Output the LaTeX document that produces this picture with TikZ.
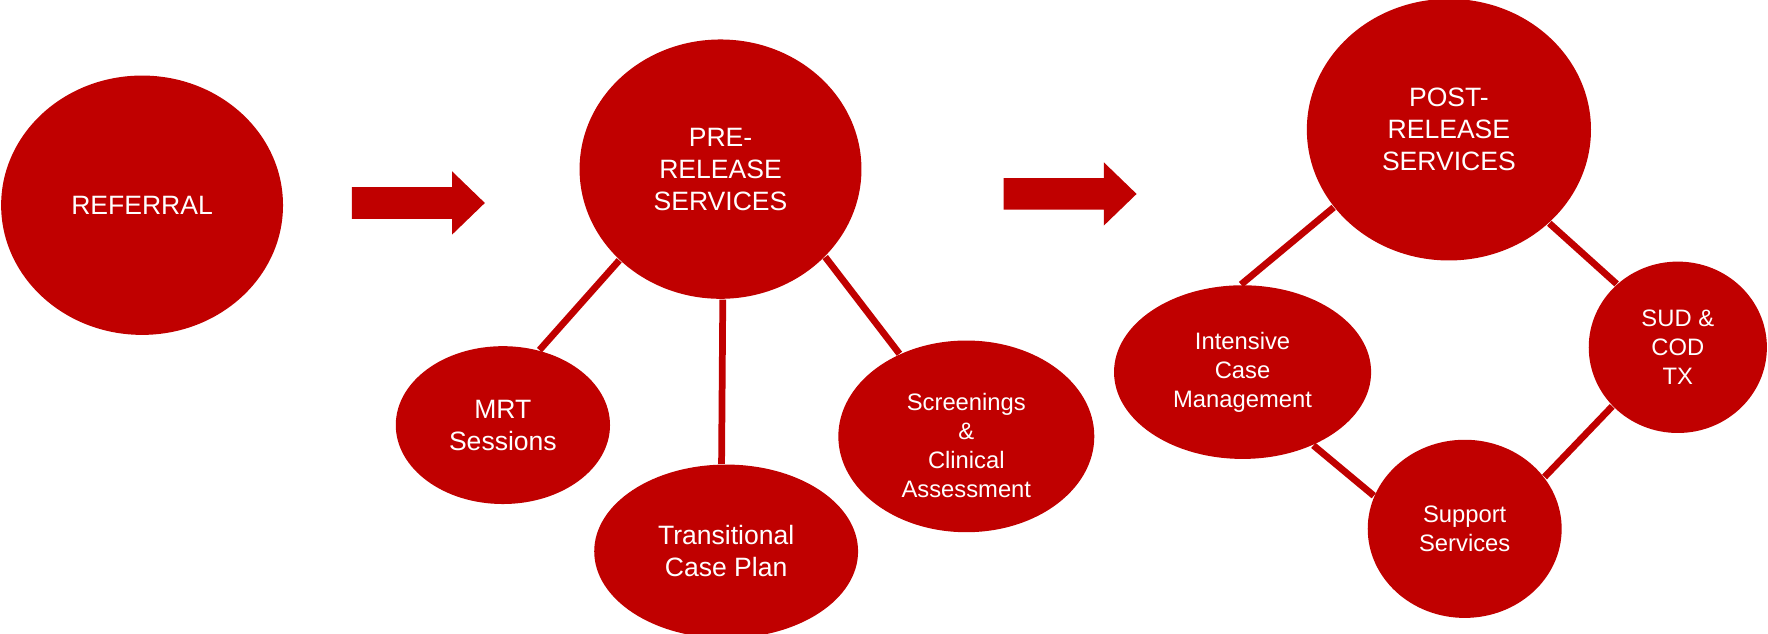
\documentclass[tikz,border=0pt]{standalone}
\usepackage{fontspec}
\setmainfont{Liberation Sans}
\usepackage{tikz}
\usetikzlibrary{shapes.geometric}
\definecolor{darkred}{HTML}{C00000}

\begin{document}
\begin{tikzpicture}[scale=1.0,
    bubble/.style={ellipse,fill=darkred,text=white,inner sep=0pt,align=center,font=\fontsize{6.7}{8.1}\selectfont},
    smallbubble/.style={bubble,font=\fontsize{6}{7.3}\selectfont},
    link/.style={darkred,line width=1.7pt}]
    \useasboundingbox (0,0) rectangle (15.68,5.62);
    % Main stages
    \node[bubble,minimum width=2.50cm,minimum height=2.30cm] (ref) at (1.26,3.80) {REFERRAL};
    \node[bubble,minimum width=2.50cm,minimum height=2.30cm] (pre) at (6.39,4.12) {PRE-\\RELEASE\\SERVICES};
    \node[bubble,minimum width=2.52cm,minimum height=2.32cm] (post) at (12.85,4.47) {POST-\\RELEASE\\SERVICES};
    % Arrows between stages
    \fill[darkred] (3.12,3.68) -- (3.12,3.96) -- (4.01,3.96) -- (4.01,4.10) -- (4.30,3.82) -- (4.01,3.54) -- (4.01,3.68) -- cycle;
    \fill[darkred] (8.90,3.76) -- (8.90,4.04) -- (9.79,4.04) -- (9.79,4.18) -- (10.08,3.90) -- (9.79,3.62) -- (9.79,3.76) -- cycle;
    % Pre-release parts
    \node[bubble,minimum width=1.90cm,minimum height=1.40cm] (mrt) at (4.46,1.85) {MRT\\Sessions};
    \node[bubble,minimum width=2.34cm,minimum height=1.54cm] (tcp) at (6.44,0.73) {Transitional\\Case Plan};
    \node[smallbubble,minimum width=2.27cm,minimum height=1.70cm] (scr) at (8.57,1.75) {\rule{0pt}{9pt}Screenings\\\&\\Clinical\\Assessment};
    \draw[link] (pre.-138) -- (mrt.64);
    \draw[link] (pre.-89) -- (tcp.93);
    \draw[link] (pre.-40) -- (scr.129);
    % Post-release parts
    \node[smallbubble,minimum width=2.28cm,minimum height=1.54cm] (icm) at (11.02,2.32) {Intensive\\Case\\Management};
    \node[smallbubble,minimum width=1.58cm,minimum height=1.52cm] (sud) at (14.88,2.54) {SUD \&\\COD\\TX};
    \node[smallbubble,minimum width=1.72cm,minimum height=1.58cm] (sup) at (12.99,0.93) {Support\\Services};
    \draw[link] (post.-146) -- (icm.91);
    \draw[link] (post.-43) -- (sud.134);
    \draw[link] (icm.-46) -- (sup.160);
    \draw[link] (sud.-138) -- (sup.33);
\end{tikzpicture}
\end{document}
